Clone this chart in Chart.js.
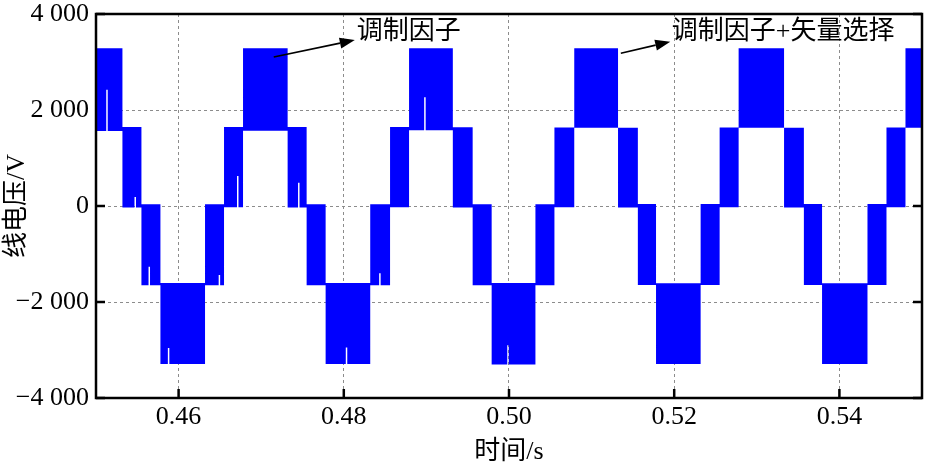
<!DOCTYPE html>
<html>
<head>
<meta charset="utf-8">
<script src="https://cdn.jsdelivr.net/npm/chart.js@4.4.1/dist/chart.umd.min.js"></script>
<style>
  html, body { margin: 0; padding: 0; background: #fff; }
</style>
</head>
<body>
<canvas id="voltChart" width="926" height="464"></canvas>
<script>
// segment start times (s) of the line-voltage band
const edges = [0.4500, 0.4532, 0.4555, 0.4578, 0.4632, 0.4655,
               0.4678, 0.4732, 0.4755, 0.4778, 0.4832, 0.4856,
               0.4879, 0.4932, 0.4956, 0.4979, 0.5032, 0.5055,
               0.5079, 0.5132, 0.5156, 0.5178, 0.5232, 0.5255,
               0.5278, 0.5333, 0.5357, 0.5379, 0.5434, 0.5457,
               0.5480];
const tEnd = 0.55;
// top and bottom of the PWM band in each segment (V)
const upper = [3285, 1645, 35, -1605, 35, 1645,
               3285, 1645, 35, -1605, 35, 1645,
               3285, 1640, 35, -1605, 35, 1635,
               3285, 1630, 40, -1610, 40, 1635,
               3285, 1630, 40, -1610, 40, 1635,
               3285];
const lower = [1560, -30, -1650, -3290, -1650, -25,
               1570, -30, -1650, -3290, -1650, -25,
               1580, -30, -1650, -3300, -1650, -25,
               1630, -30, -1645, -3290, -1645, -25,
               1630, -30, -1645, -3290, -1645, -25,
               1630];
// white notches rising from the lower edge (time, level reached)
const notchT = [0.45124, 0.45466, 0.45636, 0.45870, 0.46485, 0.46707,
                0.47446, 0.48024, 0.48428, 0.48973, 0.49979];
const notchV = [2420, 190, -1265, -2960, -1440, 625,
                485, -2950, -1400, 2264, -2900];
const notchDt = 0.00018;

const xTicks = [0.46, 0.48, 0.50, 0.52, 0.54];
const xTickLabels = ['0.46', '0.48', '0.50', '0.52', '0.54'];
const yTicks = [-4000, -2000, 0, 2000, 4000];
const yTickLabels = ['\u22124 000', '\u22122 000', '0', '2 000', '4 000'];

const notes = [
  { text: '调制因子', from: [0.47152, 3104], to: [0.48133, 3458], at: [0.48158, 3625] },
  { text: '调制因子+矢量选择', from: [0.51354, 3181], to: [0.51952, 3423], at: [0.51970, 3625] }
];

const FONT = '"Liberation Serif", "Times New Roman", "Noto Sans CJK SC", serif';

// shared time grid: segment starts plus notch start/end
function segIndex(t) {
  let i = 0;
  while (i + 1 < edges.length && edges[i + 1] <= t) i++;
  return i;
}
const times = edges.slice();
notchT.forEach(t => { times.push(t, t + notchDt); });
times.sort((a, b) => a - b);

const upperPts = times.map(t => ({ x: t, y: upper[segIndex(t)] }));
const lowerPts = times.map(t => {
  const k = notchT.indexOf(t);
  return { x: t, y: k >= 0 ? notchV[k] : lower[segIndex(t)] };
});
upperPts.push({ x: tEnd, y: upper[upper.length - 1] });
lowerPts.push({ x: tEnd, y: lower[lower.length - 1] });

const frame = {
  id: 'frame',
  beforeDatasetsDraw(chart) {
    const { ctx, chartArea: a, scales: { x, y } } = chart;
    ctx.save();
    ctx.strokeStyle = '#000';
    ctx.lineWidth = 2.5;
    ctx.beginPath();
    yTicks.forEach(v => {
      const py = y.getPixelForValue(v);
      ctx.moveTo(a.left, py); ctx.lineTo(a.left + 9, py);
      ctx.moveTo(a.right, py); ctx.lineTo(a.right - 9, py);
    });
    xTicks.forEach(v => {
      const px = x.getPixelForValue(v);
      ctx.moveTo(px, a.bottom); ctx.lineTo(px, a.bottom - 9);
    });
    ctx.stroke();
    ctx.restore();
  },
  afterDatasetsDraw(chart) {
    const { ctx, chartArea: a, scales: { x, y } } = chart;
    ctx.save();
    ctx.strokeStyle = '#000';
    ctx.lineWidth = 2.5;
    ctx.strokeRect(a.left, a.top, a.right - a.left, a.bottom - a.top);

    // annotations with arrows
    ctx.lineWidth = 1.6;
    ctx.fillStyle = '#000';
    notes.forEach(n => {
      const x0 = x.getPixelForValue(n.from[0]), y0 = y.getPixelForValue(n.from[1]);
      const x1 = x.getPixelForValue(n.to[0]), y1 = y.getPixelForValue(n.to[1]);
      const ang = Math.atan2(y1 - y0, x1 - x0);
      const hl = 15, hw = 5.5;
      const bx = x1 - hl * Math.cos(ang), by = y1 - hl * Math.sin(ang);
      ctx.beginPath();
      ctx.moveTo(x0, y0);
      ctx.lineTo(bx, by);
      ctx.stroke();
      ctx.beginPath();
      ctx.moveTo(x1, y1);
      ctx.lineTo(bx + hw * Math.sin(ang), by - hw * Math.cos(ang));
      ctx.lineTo(bx - hw * Math.sin(ang), by + hw * Math.cos(ang));
      ctx.closePath();
      ctx.fill();
      ctx.font = '26px ' + FONT;
      ctx.textAlign = 'left';
      ctx.textBaseline = 'middle';
      ctx.fillText(n.text, x.getPixelForValue(n.at[0]), y.getPixelForValue(n.at[1]));
    });
    ctx.restore();
  }
};

const ctx = document.getElementById('voltChart').getContext('2d');
const voltChart = new Chart(ctx, {
  type: 'line',
  data: {
    datasets: [
      {
        label: 'upper',
        data: upperPts,
        stepped: true,
        borderWidth: 0,
        borderColor: 'rgba(0,0,255,0)',
        pointRadius: 0,
        backgroundColor: '#0000ff',
        fill: '+1'
      },
      {
        label: 'lower',
        data: lowerPts,
        stepped: true,
        borderWidth: 0,
        borderColor: 'rgba(0,0,255,0)',
        pointRadius: 0,
        fill: false
      }
    ]
  },
  options: {
    responsive: false,
    animation: false,
    events: [],
    layout: { padding: { left: 0, top: 14, right: 4, bottom: 0 } },
    plugins: {
      legend: { display: false },
      tooltip: { enabled: false }
    },
    scales: {
      x: {
        type: 'linear',
        min: 0.45,
        max: 0.55,
        afterBuildTicks: s => { s.ticks = xTicks.map(v => ({ value: v })); },
        afterFit: s => { s.height = 66; },
        grid: { color: '#8c8c8c', lineWidth: 1, drawTicks: false },
        border: { display: false, dash: [3, 3] },
        ticks: {
          color: '#000',
          padding: 4,
          maxRotation: 0,
          font: { family: FONT, size: 26 },
          callback: v => xTickLabels[xTicks.indexOf(v)]
        },
        title: {
          display: true,
          text: '时间/s',
          color: '#000',
          padding: { top: 0, bottom: 0 },
          font: { family: FONT, size: 26, lineHeight: 0.91 }
        }
      },
      y: {
        type: 'linear',
        min: -4000,
        max: 4000,
        afterBuildTicks: s => { s.ticks = yTicks.map(v => ({ value: v })); },
        afterFit: s => { s.width = 96; s.paddingTop = 0; s.paddingBottom = 0; },
        grid: { color: '#8c8c8c', lineWidth: 1, drawTicks: false },
        border: { display: false, dash: [3, 3] },
        ticks: {
          color: '#000',
          padding: 7,
          font: { family: FONT, size: 26 },
          callback: v => yTickLabels[yTicks.indexOf(v)]
        },
        title: {
          display: true,
          text: '线电压/V',
          color: '#000',
          padding: { top: 2, bottom: 0 },
          font: { family: FONT, size: 26 }
        }
      }
    }
  },
  plugins: [frame]
});
</script>
</body>
</html>
